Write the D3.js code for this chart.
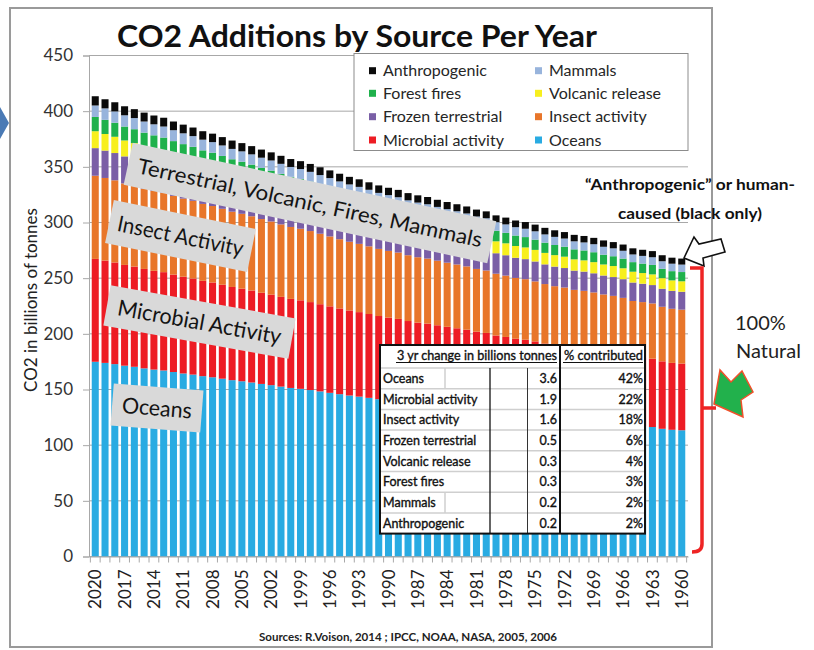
<!DOCTYPE html>
<html><head><meta charset="utf-8">
<script src="https://cdn.jsdelivr.net/npm/d3@7/dist/d3.min.js"></script>
<style>body{margin:0;background:#fff;} svg{display:block;font-family:Lato,"Open Sans",sans-serif;}</style>
</head><body><svg id="c" width="814" height="650"></svg>
<script>
// ---------- DATA ----------
const years = [2020,2019,2018,2017,2016,2015,2014,2013,2012,2011,2010,2009,2008,2007,2006,2005,2004,2003,2002,2001,2000,1999,1998,1997,1996,1995,1994,1993,1992,1991,1990,1989,1988,1987,1986,1985,1984,1983,1982,1981,1980,1979,1978,1977,1976,1975,1974,1973,1972,1971,1970,1969,1968,1967,1966,1965,1964,1963,1962,1961,1960];
const oceans = [174.9,173.9,172.8,171.4,170.4,169.0,167.9,167.1,165.7,164.4,163.4,162.0,161.0,159.7,158.4,157.4,156.3,155.0,153.9,152.6,151.4,150.6,149.5,148.3,147.0,145.8,144.6,143.6,142.5,141.3,140.4,139.6,138.4,137.5,136.9,135.9,135.0,134.1,133.3,132.1,131.4,129.9,129.0,128.0,127.4,126.4,125.2,124.2,123.6,122.5,122.0,121.3,120.4,119.7,118.8,117.4,116.9,116.3,114.7,113.8,113.4];
const microbial = [92.4,91.9,91.3,90.5,90.0,89.3,88.7,88.3,87.5,86.9,86.3,85.6,85.1,84.4,83.7,83.2,82.6,81.9,81.3,80.6,80.0,79.5,79.0,78.3,77.7,77.0,76.4,75.9,75.3,74.7,74.2,73.8,73.1,72.6,72.3,71.8,71.3,70.9,70.4,69.8,69.4,68.6,68.2,67.6,67.3,66.8,66.1,65.6,65.3,64.7,64.5,64.1,63.6,63.3,62.8,62.0,61.7,61.4,60.6,60.1,59.9];
const insect = [74.7,74.2,73.8,73.2,72.7,72.1,71.7,71.3,70.7,70.2,69.8,69.1,68.7,68.2,67.6,67.2,66.7,66.2,65.7,65.1,64.6,64.3,63.8,63.3,62.8,62.2,61.7,61.3,60.8,60.3,59.9,59.6,59.1,58.7,58.4,58.0,57.6,57.3,56.9,56.4,56.1,55.5,55.1,54.6,54.4,53.9,53.4,53.0,52.7,52.3,52.1,51.8,51.4,51.1,50.7,50.1,49.9,49.6,49.0,48.6,48.4];
const frozen = [24.8,24.6,24.5,24.3,24.1,23.9,23.8,23.6,23.4,23.3,23.1,22.9,22.8,22.6,22.4,22.3,22.1,21.9,21.8,21.6,21.4,21.3,21.2,21.0,20.8,20.6,20.5,20.3,20.2,20.0,19.9,19.8,19.6,19.5,19.4,19.2,19.1,19.0,18.9,18.7,18.6,18.4,18.3,18.1,18.0,17.9,17.7,17.6,17.5,17.3,17.3,17.2,17.0,16.9,16.8,16.6,16.5,16.5,16.2,16.1,16.1];
const volcanic = [15.2,14.9,14.6,14.3,14.1,14.0,13.9,13.8,13.7,13.6,13.5,13.4,13.3,13.2,13.1,13.0,12.9,12.8,12.7,12.6,12.5,12.4,12.3,12.2,12.1,12.0,11.9,11.9,11.8,11.7,11.6,11.5,11.4,11.4,11.3,11.2,11.1,11.1,11.0,10.9,10.9,10.7,10.7,10.6,10.5,10.4,10.3,10.3,10.2,10.1,10.1,10.0,9.9,9.9,9.8,9.7,9.6,9.6,9.5,9.4,9.4];
const forest = [12.8,12.7,12.6,12.5,12.5,12.4,12.3,12.2,12.1,12.0,11.9,11.8,11.8,11.7,11.6,11.5,11.4,11.3,11.2,11.2,11.1,11.0,10.9,10.8,10.8,10.7,10.6,10.5,10.4,10.3,10.3,10.2,10.1,10.1,10.0,9.9,9.9,9.8,9.7,9.7,9.6,9.5,9.4,9.4,9.3,9.2,9.2,9.1,9.0,9.0,8.9,8.9,8.8,8.8,8.7,8.6,8.5,8.5,8.4,8.3,8.3];
const mammals = [10.3,10.3,10.2,10.1,10.0,10.0,9.9,9.9,9.8,9.7,9.6,9.6,9.5,9.4,9.3,9.3,9.2,9.1,9.1,9.0,8.9,8.9,8.8,8.7,8.7,8.6,8.5,8.5,8.4,8.3,8.3,8.2,8.2,8.1,8.1,8.0,8.0,7.9,7.9,7.8,7.8,7.7,7.6,7.5,7.5,7.5,7.4,7.3,7.3,7.2,7.2,7.2,7.1,7.1,7.0,6.9,6.9,6.9,6.8,6.7,6.7];
const anthropogenic = [8.3,8.2,8.2,8.1,8.0,8.0,7.9,7.9,7.8,7.8,7.7,7.6,7.6,7.5,7.5,7.4,7.4,7.3,7.3,7.2,7.1,7.1,7.1,7.0,6.9,6.9,6.8,6.8,6.7,6.7,6.6,6.6,6.5,6.5,6.5,6.4,6.4,6.3,6.3,6.2,6.2,6.1,6.1,6.0,6.0,6.0,5.9,5.9,5.8,5.8,5.8,5.7,5.7,5.6,5.6,5.5,5.5,5.5,5.4,5.4,5.4];
const yearLabels = [2020,2017,2014,2011,2008,2005,2002,1999,1996,1993,1990,1987,1984,1981,1978,1975,1972,1969,1966,1963,1960];
const yTicks = [0,50,100,150,200,250,300,350,400,450];
const seriesKeys = ["oceans","microbial","insect","frozen","volcanic","forest","mammals","anthropogenic"];
const seriesNames = ["Oceans","Microbial activity","Insect activity","Frozen terrestrial","Volcanic release","Forest fires","Mammals","Anthropogenic"];
const seriesColors = ["#29abe2","#ed1c24","#e8762a","#7a5fa6","#f7ef1e","#1fb14c","#98b4dc","#0a0a0a"];
const legendOrder = [["anthropogenic","mammals"],["forest","volcanic"],["frozen","insect"],["microbial","oceans"]];
const tableRows = ["Oceans","Microbial activity","Insect activity","Frozen terrestrial","Volcanic release","Forest fires","Mammals","Anthropogenic"];
const tableChange = ["3.6","1.9","1.6","0.5","0.3","0.3","0.2","0.2"];
const tablePct = ["42%","22%","18%","6%","4%","3%","2%","2%"];
const boxLabels = ["Terrestrial, Volcanic, Fires, Mammals","Insect Activity","Microbial Activity","Oceans"];

// ---------- SETUP ----------
const svg = d3.select("#c");
const seriesData = {oceans, microbial, insect, frozen, volcanic, forest, mammals, anthropogenic};
const rows = years.map((yr,i)=>{const o={year:yr}; seriesKeys.forEach(k=>o[k]=seriesData[k][i]); return o;});
const color = d3.scaleOrdinal().domain(seriesKeys).range(seriesColors);
const nameOf = d3.scaleOrdinal().domain(seriesKeys).range(seriesNames);

const L=89, R=688, T=55.5, B=556.5;
const x = d3.scaleBand().domain(years).range([L,R]).padding(0.28);
const y = d3.scaleLinear().domain([0,450]).range([B,T]);

// blue arrow at far left
svg.append("path").attr("d","M0,107 L9,123 L0,139 Z").attr("fill","#4a7ab5");
// outer frame
svg.append("rect").attr("x",10).attr("y",8).attr("width",702).attr("height",639)
  .attr("fill","none").attr("stroke","#9a9a9a").attr("stroke-width",2);

// title
svg.append("text").attr("x",357).attr("y",47).attr("text-anchor","middle")
  .attr("font-size",30).attr("font-weight",700).attr("fill","#111")
  .attr("textLength",480).attr("lengthAdjust","spacingAndGlyphs")
  .text("CO2 Additions by Source Per Year");

// gridlines
svg.append("g").selectAll("line").data(yTicks).join("line")
  .attr("x1",L).attr("x2",R).attr("y1",d=>y(d)).attr("y2",d=>y(d))
  .attr("stroke","#a8a8a8").attr("stroke-width",1);

// y axis
const yAxis = svg.append("g").attr("transform",`translate(${L},0)`)
  .call(d3.axisLeft(y).tickValues(yTicks).tickSize(6).tickPadding(10).tickFormat(d3.format("d")));
yAxis.select(".domain").attr("stroke","#a8a8a8");
yAxis.selectAll(".tick line").attr("stroke","#a8a8a8");
yAxis.selectAll(".tick text").attr("font-size",17).attr("fill","#333").attr("font-family","Lato, sans-serif");

// y title
svg.append("text").attr("transform","translate(37,300) rotate(-90)").attr("text-anchor","middle")
  .attr("font-size",17).attr("fill","#222").text("CO2 in billions of tonnes");

// bars
const stacked = d3.stack().keys(seriesKeys)(rows);
svg.append("g").selectAll("g").data(stacked).join("g").attr("fill",d=>color(d.key))
  .selectAll("rect").data(d=>d).join("rect")
  .attr("x",d=>x(d.data.year)).attr("width",x.bandwidth())
  .attr("y",d=>y(d[1])).attr("height",d=>y(d[0])-y(d[1]));

// x axis
const xAxis = svg.append("g").attr("transform",`translate(0,${B})`)
  .call(d3.axisBottom(x).tickValues(yearLabels).tickSize(0).tickPadding(0));
xAxis.select(".domain").attr("stroke","#a8a8a8");
xAxis.selectAll(".tick text").attr("font-size",17).attr("fill","#222").attr("font-family","Lato, sans-serif")
  .attr("text-anchor","end").attr("transform","translate(0,13) rotate(-90)").attr("dx",0).attr("dy","0.36em").attr("y",0);
// ticks at band boundaries
const bounds = years.map(yr=>x(yr)-x.step()*x.paddingInner()/2).concat([x(years[years.length-1])+x.bandwidth()+x.step()*x.paddingInner()/2]);
svg.append("g").selectAll("line").data(bounds).join("line")
  .attr("x1",d=>d).attr("x2",d=>d).attr("y1",B).attr("y2",B+6).attr("stroke","#a8a8a8");

// gray annotation boxes
const boxes = [
  {cx:310, cy:203, w:372, h:43, a:12.2, fs:21, tl:352},
  {cx:180.5, cy:236, w:145, h:44, a:11.5, fs:22, tl:128},
  {cx:199.5, cy:322, w:188, h:41, a:10.2, fs:22, tl:166},
  {cx:157, cy:408, w:90, h:42, a:4.5, fs:22, tl:70}
];
const bg = svg.append("g").selectAll("g").data(boxes).join("g")
  .attr("transform",d=>`translate(${d.cx},${d.cy}) rotate(${d.a})`);
bg.append("rect").attr("x",d=>-d.w/2).attr("y",d=>-d.h/2).attr("width",d=>d.w).attr("height",d=>d.h).attr("fill","#d9d9d9");
bg.append("text").attr("text-anchor","middle").attr("dy","0.35em").attr("font-size",d=>d.fs).attr("fill","#141414")
  .attr("textLength",d=>d.tl).attr("lengthAdjust","spacingAndGlyphs").text((d,i)=>boxLabels[i]);

// legend
const lg = svg.append("g");
lg.append("rect").attr("x",354).attr("y",53.5).attr("width",334).attr("height",97)
  .attr("fill","#fff").attr("stroke","#8c8c8c").attr("stroke-width",1);
const legRowY = [70.7,93.3,116.7,140];
const legColX = [369,535];
legendOrder.forEach((row,ri)=>row.forEach((k,ci)=>{
  lg.append("rect").attr("x",legColX[ci]).attr("y",legRowY[ri]-3.5).attr("width",7).attr("height",7).attr("fill",color(k));
  lg.append("text").attr("x",legColX[ci]+14).attr("y",legRowY[ri]).attr("dy","0.35em")
    .attr("font-size",16).attr("fill","#262626").text(nameOf(k));
}));

// table
const tb = svg.append("g").attr("font-size",12.5).attr("fill","#111").attr("stroke","#111").attr("stroke-width",0.35);
const tx0=380, tx1=645, ty0=345, thead=368, rowH=20.7;
const ty1 = thead + rowH*tableRows.length;
tb.append("rect").attr("x",tx0).attr("y",ty0).attr("width",tx1-tx0).attr("height",ty1-ty0).attr("fill","#fff").attr("stroke","none");
tableRows.forEach((r,i)=>{
  if(i>0) tb.append("line").attr("x1",tx0).attr("x2",tx1).attr("y1",thead+rowH*i).attr("y2",thead+rowH*i).attr("stroke","#cfcfcf").attr("stroke-width",1.5);
});
tb.append("line").attr("x1",tx0).attr("x2",tx1).attr("y1",thead).attr("y2",thead).attr("stroke","#cfcfcf").attr("stroke-width",1.5);
[0,6].forEach(i=>tb.append("line").attr("x1",445).attr("x2",445).attr("y1",thead+rowH*i).attr("y2",thead+rowH*(i+1)).attr("stroke","#cfcfcf").attr("stroke-width",1.5));
tb.append("line").attr("x1",490).attr("x2",490).attr("y1",thead).attr("y2",ty1).attr("stroke","#111").attr("stroke-width",1.3);
tb.append("line").attr("x1",527.5).attr("x2",527.5).attr("y1",thead).attr("y2",ty1).attr("stroke","#333").attr("stroke-width",1);
tb.append("line").attr("x1",560).attr("x2",560).attr("y1",ty0).attr("y2",ty1).attr("stroke","#111").attr("stroke-width",2);
tb.append("rect").attr("x",tx0).attr("y",ty0).attr("width",tx1-tx0).attr("height",ty1-ty0).attr("fill","none").attr("stroke","#111").attr("stroke-width",2);
tb.append("text").attr("x",557).attr("y",360).attr("text-anchor","end").attr("textLength",160).attr("lengthAdjust","spacingAndGlyphs").text("3 yr change in billions tonnes");
tb.append("line").attr("x1",396).attr("x2",557).attr("y1",362.5).attr("y2",362.5).attr("stroke","#111").attr("stroke-width",1);
tb.append("text").attr("x",643).attr("y",360).attr("text-anchor","end").attr("textLength",79).attr("lengthAdjust","spacingAndGlyphs").text("% contributed");
tb.append("line").attr("x1",563).attr("x2",643).attr("y1",362.5).attr("y2",362.5).attr("stroke","#111").attr("stroke-width",1);
tableRows.forEach((r,i)=>{
  const cy = thead + rowH*i + rowH/2;
  tb.append("text").attr("x",383).attr("y",cy).attr("dy","0.36em").text(r);
  tb.append("text").attr("x",557).attr("y",cy).attr("dy","0.36em").attr("text-anchor","end").text(tableChange[i]);
  tb.append("text").attr("x",643).attr("y",cy).attr("dy","0.36em").attr("text-anchor","end").text(tablePct[i]);
});

// source
svg.append("text").attr("x",408).attr("y",641).attr("text-anchor","middle").attr("font-size",11).attr("font-weight",700)
  .attr("fill","#222").attr("textLength",298).attr("lengthAdjust","spacingAndGlyphs")
  .text("Sources: R.Voison, 2014 ; IPCC, NOAA, NASA, 2005, 2006");

// right annotations
svg.append("text").attr("x",690).attr("y",190).attr("text-anchor","middle").attr("font-size",16).attr("font-weight",700)
  .attr("fill","#111").attr("textLength",210).attr("lengthAdjust","spacingAndGlyphs").text("\u201CAnthropogenic\u201D or human-");
svg.append("text").attr("x",690).attr("y",219).attr("text-anchor","middle").attr("font-size",16).attr("font-weight",700)
  .attr("fill","#111").attr("textLength",144).attr("lengthAdjust","spacingAndGlyphs").text("caused (black only)");
// hollow arrow
svg.append("path").attr("d","M684,258 L694,237 L699,244 L721,239 L725,252 L703,258 L704,266 Z")
  .attr("fill","#fff").attr("stroke","#111").attr("stroke-width",1.6).attr("stroke-linejoin","miter");
// red bracket
svg.append("path").attr("d","M690,268 L702,268 L702,544 Q702,552 692,552")
  .attr("fill","none").attr("stroke","#ee2424").attr("stroke-width",3.5);
svg.append("line").attr("x1",702).attr("x2",716).attr("y1",408).attr("y2",408).attr("stroke","#ee2424").attr("stroke-width",3.5);
// green arrow
svg.append("path").attr("d","M714,404 L720,370 L731,382 L742,371 L753,392 L741,400 L743,417 Z")
  .attr("fill","#22b14c").attr("stroke","#f0502a").attr("stroke-width",1.5);
svg.append("text").attr("x",735).attr("y",330).attr("font-size",20).attr("fill","#222").text("100%");
svg.append("text").attr("x",736).attr("y",358).attr("font-size",20).attr("fill","#222").text("Natural");
</script></body></html>
